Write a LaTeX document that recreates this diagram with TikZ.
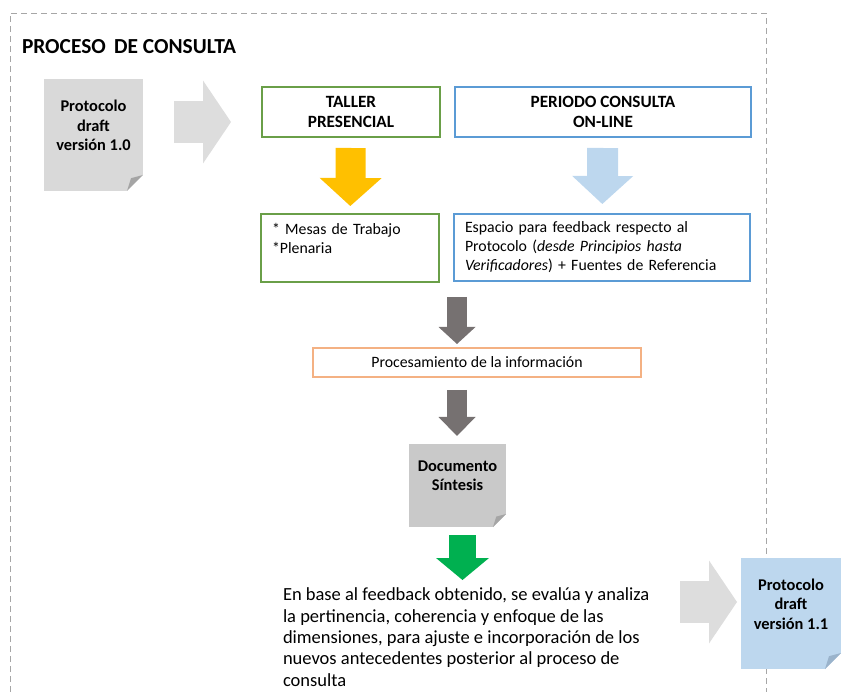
\documentclass[tikz,border=0pt]{standalone}
\usepackage{fontspec}
\setmainfont{Carlito}
\usetikzlibrary{arrows.meta, positioning}

\definecolor{framegray}{HTML}{A6A6A6}
\definecolor{docgray}{HTML}{D9D9D9}
\definecolor{synthgray}{HTML}{C9C9C9}
\definecolor{foldgray}{HTML}{A5A5A5}
\definecolor{docblue}{HTML}{BDD7EE}
\definecolor{foldblue}{HTML}{9AB3CB}
\definecolor{boxgreen}{HTML}{6A9F48}
\definecolor{boxblue}{HTML}{5B9BD5}
\definecolor{boxorange}{HTML}{F4B183}
\definecolor{arrowyellow}{HTML}{FFC000}
\definecolor{arrowblue}{HTML}{BDD7EE}
\definecolor{arrowdark}{HTML}{767171}
\definecolor{arrowgreen}{HTML}{00B050}
\definecolor{arrowgray}{HTML}{DDDDDD}

\newcommand\titlefont{\bfseries\fontsize{21.4}{26}\selectfont}
\newcommand\headfont{\bfseries\fontsize{17.2}{19.5}\selectfont}
\newcommand\docfont{\bfseries\fontsize{16.4}{19.5}\selectfont}
\newcommand\boxfont{\fontsize{15.8}{19}\selectfont}
\newcommand\parafont{\fontsize{18.5}{21.3}\selectfont}

\begin{document}
\begin{tikzpicture}[
  x=1pt, y=-1pt,
  every node/.style={inner sep=0pt, outer sep=0pt},
  docnote/.style n args={3}{rectangle, fill=#1, align=center, font=\docfont,
    path picture={
      \coordinate (se) at (path picture bounding box.south east);
      \fill[white] ([xshift=-#3]se) -- (se) -- ([yshift=#3]se) -- cycle;
      \fill[#2] ([xshift=-#3]se) -- ([yshift=#3]se) -- ([xshift=-0.75*#3, yshift=0.8*#3]se) -- cycle;
    }},
  headbox/.style={draw=#1, line width=1.3pt, align=center, font=\headfont},
  listbox/.style={draw=#1, line width=1.3pt, inner xsep=11pt, font=\boxfont},
  bigarrow/.style n args={4}{draw=#1, line width=#2, -{Triangle[width=#3, length=#4, line width=0pt]}}
]
\useasboundingbox (0,0) rectangle (849,692);

% dashed frame
\draw[framegray, line width=0.9pt, dash pattern=on 6pt off 4pt] (10,692) |- (766,13) -- (766,692);

\node[font=\titlefont, anchor=base west] (title) at (22,54) {PROCESO\, DE CONSULTA};

% documents and boxes
\node[docnote={docgray}{foldgray}{16pt}, minimum width=99pt, minimum height=112pt] (draft10) at (93.5,135) {Protocolo\\draft\\versión 1.0\\~};
\node[headbox=boxgreen, minimum width=178pt, minimum height=50pt] (taller) at (351,112) {TALLER\\PRESENCIAL};
\node[headbox=boxblue, minimum width=296pt, minimum height=50pt] (online) at (603,112) {PERIODO CONSULTA\\ON-LINE};
\node[listbox=boxgreen, text width=156pt, minimum height=68pt] (mesas) at (350,248) {* Mesas de Trabajo\\{}*Plenaria\\~};
\node[listbox=boxblue, text width=274pt, minimum height=67pt] (espacio) at (602,247.5) {Espacio para feedback respecto al\\Protocolo (\textit{desde Principios hasta}\\\textit{Verificadores}) + Fuentes de Referencia};
\node[draw=boxorange, line width=1.1pt, minimum width=328pt, minimum height=29pt, font=\boxfont] (proc) at (477,362.5) {Procesamiento de la información};
\node[docnote={synthgray}{foldgray}{13pt}, minimum width=97pt, minimum height=83pt] (synth) at (457.5,485.5) {Documento\\Síntesis\\~};
\node[font=\parafont, align=left, anchor=north west] (ajuste) at (283,588) {En base al feedback obtenido, se evalúa y analiza\\la pertinencia, coherencia y enfoque de las\\dimensiones, para ajuste e incorporación de los\\nuevos antecedentes posterior al proceso de\\consulta};
\node[docnote={docblue}{foldblue}{16pt}, minimum width=100pt, minimum height=111pt] (draft11) at (791,613.5) {Protocolo\\draft\\versión 1.1\\~};

\coordinate (split) at (457,282);
\coordinate (handoff) at (680,602);

% block arrows
\draw[bigarrow={arrowgray}{42pt}{83pt}{28pt}, shorten <=31pt, shorten >=31pt] ([yshift=13pt]draft10.east) -- ([yshift=13pt]draft10.east -| taller.west);
\draw[bigarrow={arrowyellow}{30pt}{62pt}{28pt}, shorten <=11pt, shorten >=8pt] (taller) -- (mesas);
\draw[bigarrow={arrowblue}{31pt}{61pt}{28pt}, shorten <=11pt, shorten >=10pt] (online) -- (espacio);
\draw[bigarrow={arrowdark}{20pt}{37pt}{17pt}, shorten <=15pt, shorten >=4pt] (split) -- (split |- proc.north);
\draw[bigarrow={arrowdark}{20pt}{37pt}{19pt}, shorten <=13pt, shorten >=8pt] (proc.south -| split) -- (split |- synth.north);
\draw[bigarrow={arrowgreen}{27pt}{53pt}{22pt}, shorten <=8pt, shorten >=8pt] ([xshift=5pt]synth.south) -- ([xshift=5pt]synth.south |- ajuste.north);
\draw[bigarrow={arrowgray}{42pt}{83pt}{28pt}, shorten >=4pt] (handoff) -- (handoff -| draft11.west);
\end{tikzpicture}
\end{document}
